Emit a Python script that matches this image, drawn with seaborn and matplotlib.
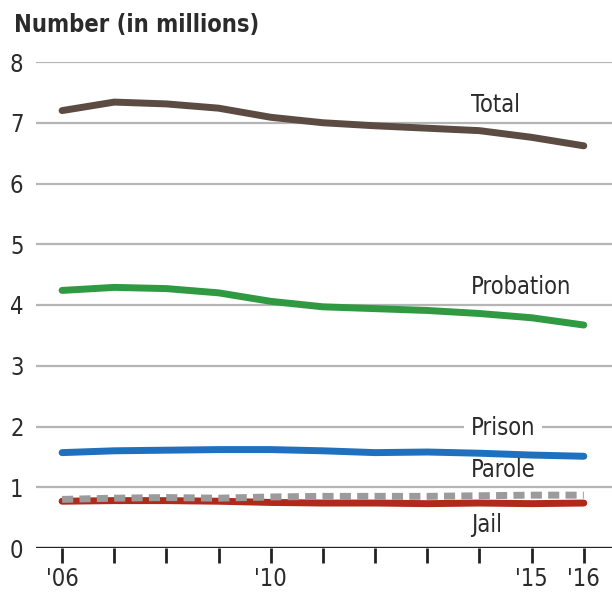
import matplotlib
matplotlib.use("Agg")
import matplotlib.pyplot as plt
import seaborn as sns
import pandas as pd

years = [2006, 2007, 2008, 2009, 2010, 2011, 2012, 2013, 2014, 2015, 2016]
total = [7.20, 7.34, 7.31, 7.24, 7.09, 7.00, 6.95, 6.91, 6.87, 6.76, 6.62]
probation = [4.24, 4.29, 4.27, 4.20, 4.06, 3.97, 3.94, 3.91, 3.86, 3.79, 3.67]
prison = [1.57, 1.60, 1.61, 1.62, 1.62, 1.60, 1.57, 1.58, 1.56, 1.53, 1.51]
parole = [0.80, 0.82, 0.83, 0.82, 0.84, 0.85, 0.85, 0.85, 0.86, 0.87, 0.87]
jail = [0.77, 0.78, 0.78, 0.77, 0.75, 0.74, 0.74, 0.73, 0.74, 0.73, 0.74]
series_names = ["Total", "Probation", "Prison", "Parole", "Jail"]
xtick_labels = {2006: "'06", 2010: "'10", 2015: "'15", 2016: "'16"}
yticks = [0, 1, 2, 3, 4, 5, 6, 7, 8]

colors = {"Total": "#5b4b43", "Probation": "#2f9a41", "Prison": "#1f70be",
          "Parole": "#9b9b9b", "Jail": "#b0291b"}

rows = []
for name, vals in zip(series_names, [total, probation, prison, parole, jail]):
    for y, v in zip(years, vals):
        rows.append({"year": y, "value": v, "series": name})
df = pd.DataFrame(rows)

sns.set_theme(style="white")
plt.rcParams['font.family'] = ['DejaVu Sans']
plt.rcParams['font.stretch'] = 'condensed'

fig = plt.figure(figsize=(6.12, 5.93), dpi=100)
ax = fig.add_axes([36/612, 45/593, 1 - 36/612, (548-62)/593])

for v in yticks[1:]:
    ax.axhline(v, color="#b5b5b5", lw=1.6, zorder=0)
ax.axhline(0, color="#222222", lw=2.4, zorder=1)

order = ["Total", "Probation", "Prison", "Jail", "Parole"]
dashes = {"Total": "", "Probation": "", "Prison": "", "Jail": "", "Parole": (1.6, 0.9)}
sns.lineplot(data=df, x="year", y="value", hue="series", style="series",
             hue_order=order, style_order=order, palette=colors, dashes=dashes,
             lw=5, legend=False, ax=ax, zorder=3)

ax.set_xlim(2005.5, 2016.54)
ax.set_ylim(0, 8)
for s in ax.spines.values():
    s.set_visible(False)
ax.set_xlabel("")
ax.set_ylabel("")
ax.set_xticks(years)
ax.set_xticklabels([xtick_labels.get(y, "") for y in years])
ax.set_yticks(yticks)
ax.set_yticklabels([str(v) for v in yticks])
ax.tick_params(axis="x", length=11, width=2, color="#222222", direction="out",
               labelsize=17, labelcolor="#2b2b2b", pad=3, bottom=True)
ax.tick_params(axis="y", length=0, labelsize=17, labelcolor="#2b2b2b", pad=9)

lab_kw = dict(fontsize=17, color="#2b2b2b", ha="left", va="center", zorder=5)
lx = 2013.83
ax.text(lx, 7.29, "Total", **lab_kw)
ax.text(lx, 4.30, "Probation", **lab_kw)
ax.text(lx, 1.98, "Prison", bbox=dict(facecolor="white", edgecolor="none", pad=5), **lab_kw)
ax.text(lx, 1.28, "Parole", **lab_kw)
ax.text(lx, 0.38, "Jail", **lab_kw)

fig.text(14/612, 1 - 25/593, "Number (in millions)", fontsize=17, fontweight="bold",
         color="#2b2b2b", ha="left", va="center")

fig.savefig("out.png", dpi=100)
